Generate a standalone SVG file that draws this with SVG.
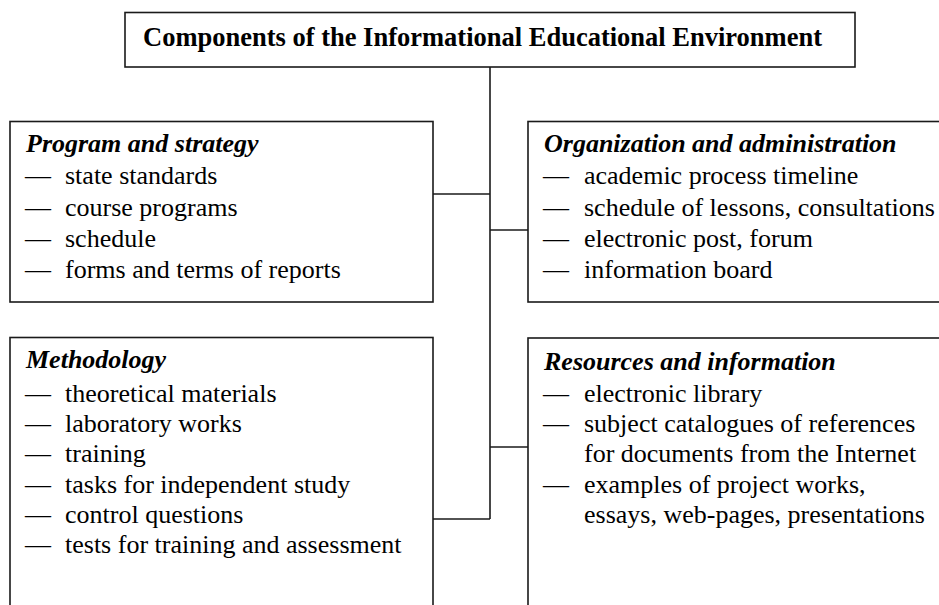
<svg xmlns="http://www.w3.org/2000/svg" width="939" height="605" viewBox="0 0 939 605">
<defs>
<rect id="tallbox" width="423" height="280"/>
</defs>
<rect width="939" height="605" fill="#fff"/>
<g id="connectors" fill="none" stroke="#1a1a1a" stroke-width="1.6">
<path d="M490,67 V519"/>
<path d="M433,194 H490"/>
<path d="M490,230 H528"/>
<path d="M490,447 H528"/>
<path d="M433,519 H490"/>
</g>
<g id="root">
<rect x="125" y="12.5" width="730" height="54.5" fill="#fff" stroke="#1a1a1a" stroke-width="1.6"/>
<text x="143" y="46" font-family="Liberation Serif" font-weight="bold" font-size="26.5">Components of the Informational Educational Environment</text>
</g>
<g id="program">
<rect x="10" y="121.5" width="423" height="180.5" fill="#fff" stroke="#1a1a1a" stroke-width="1.6"/>
<text x="26" y="152" font-family="Liberation Serif" font-size="26" font-weight="bold" font-style="italic">Program and strategy</text>
<text x="25" y="184" font-family="Liberation Serif" font-size="26">—</text>
<text x="65" y="184" font-family="Liberation Serif" font-size="26">state standards</text>
<text x="25" y="215.5" font-family="Liberation Serif" font-size="26">—</text>
<text x="65" y="215.5" font-family="Liberation Serif" font-size="26">course programs</text>
<text x="25" y="247" font-family="Liberation Serif" font-size="26">—</text>
<text x="65" y="247" font-family="Liberation Serif" font-size="26">schedule</text>
<text x="25" y="278" font-family="Liberation Serif" font-size="26">—</text>
<text x="65" y="278" font-family="Liberation Serif" font-size="26">forms and terms of reports</text>
</g>
<g id="organization">
<rect x="528" y="121.5" width="420" height="180.5" fill="#fff" stroke="#1a1a1a" stroke-width="1.6"/>
<text x="544" y="152" font-family="Liberation Serif" font-size="26" font-weight="bold" font-style="italic">Organization and administration</text>
<text x="543" y="184" font-family="Liberation Serif" font-size="26">—</text>
<text x="584" y="184" font-family="Liberation Serif" font-size="26">academic process timeline</text>
<text x="543" y="215.5" font-family="Liberation Serif" font-size="26">—</text>
<text x="584" y="215.5" font-family="Liberation Serif" font-size="26">schedule of lessons, consultations</text>
<text x="543" y="247" font-family="Liberation Serif" font-size="26">—</text>
<text x="584" y="247" font-family="Liberation Serif" font-size="26">electronic post, forum</text>
<text x="543" y="278" font-family="Liberation Serif" font-size="26">—</text>
<text x="584" y="278" font-family="Liberation Serif" font-size="26">information board</text>
</g>
<g id="methodology">
<rect x="10" y="337.5" width="423" height="280" fill="#fff" stroke="#1a1a1a" stroke-width="1.6"/>
<text x="26" y="368" font-family="Liberation Serif" font-size="26" font-weight="bold" font-style="italic">Methodology</text>
<text x="25" y="401.5" font-family="Liberation Serif" font-size="26">—</text>
<text x="65" y="401.5" font-family="Liberation Serif" font-size="26">theoretical materials</text>
<text x="25" y="431.8" font-family="Liberation Serif" font-size="26">—</text>
<text x="65" y="431.8" font-family="Liberation Serif" font-size="26">laboratory works</text>
<text x="25" y="462" font-family="Liberation Serif" font-size="26">—</text>
<text x="65" y="462" font-family="Liberation Serif" font-size="26">training</text>
<text x="25" y="492.5" font-family="Liberation Serif" font-size="26">—</text>
<text x="65" y="492.5" font-family="Liberation Serif" font-size="26">tasks for independent study</text>
<text x="25" y="523" font-family="Liberation Serif" font-size="26">—</text>
<text x="65" y="523" font-family="Liberation Serif" font-size="26">control questions</text>
<text x="25" y="553" font-family="Liberation Serif" font-size="26">—</text>
<text x="65" y="553" font-family="Liberation Serif" font-size="26">tests for training and assessment</text>
</g>
<g id="resources">
<rect x="528" y="338" width="420" height="280" fill="#fff" stroke="#1a1a1a" stroke-width="1.6"/>
<text x="544" y="370" font-family="Liberation Serif" font-size="26" font-weight="bold" font-style="italic">Resources and information</text>
<text x="543" y="401.5" font-family="Liberation Serif" font-size="26">—</text>
<text x="584" y="401.5" font-family="Liberation Serif" font-size="26">electronic library</text>
<text x="543" y="431.8" font-family="Liberation Serif" font-size="26">—</text>
<text x="584" y="431.8" font-family="Liberation Serif" font-size="26">subject catalogues of references</text>
<text x="584" y="462" font-family="Liberation Serif" font-size="26">for documents from the Internet</text>
<text x="543" y="492.5" font-family="Liberation Serif" font-size="26">—</text>
<text x="584" y="492.5" font-family="Liberation Serif" font-size="26">examples of project works,</text>
<text x="584" y="523" font-family="Liberation Serif" font-size="26">essays, web-pages, presentations</text>
</g>
</svg>
